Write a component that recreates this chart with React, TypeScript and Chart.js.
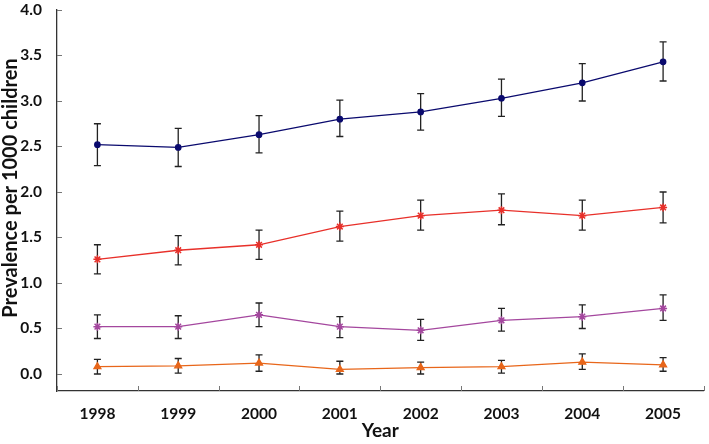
import React, { useEffect, useRef } from "react";
import { Chart, registerables } from "chart.js";

Chart.register(...registerables);

const years = ["1998", "1999", "2000", "2001", "2002", "2003", "2004", "2005"];
const yTicks = [0, 0.5, 1, 1.5, 2, 2.5, 3, 3.5, 4];

const navyValues = [2.52, 2.49, 2.63, 2.8, 2.88, 3.03, 3.2, 3.43];
const navyLow = [2.29, 2.28, 2.43, 2.61, 2.68, 2.83, 3.0, 3.22];
const navyHigh = [2.75, 2.7, 2.84, 3.01, 3.08, 3.24, 3.41, 3.65];

const redValues = [1.26, 1.36, 1.42, 1.62, 1.74, 1.8, 1.74, 1.83];
const redLow = [1.1, 1.2, 1.26, 1.46, 1.58, 1.64, 1.58, 1.66];
const redHigh = [1.42, 1.52, 1.58, 1.79, 1.91, 1.98, 1.91, 2.0];

const purpleValues = [0.52, 0.52, 0.65, 0.52, 0.48, 0.59, 0.63, 0.72];
const purpleLow = [0.39, 0.39, 0.52, 0.4, 0.37, 0.47, 0.5, 0.59];
const purpleHigh = [0.65, 0.64, 0.78, 0.63, 0.6, 0.72, 0.76, 0.87];

const orangeValues = [0.08, 0.09, 0.12, 0.05, 0.07, 0.08, 0.13, 0.1];
const orangeLow = [0.0, 0.01, 0.03, 0.0, 0.0, 0.01, 0.05, 0.03];
const orangeHigh = [0.16, 0.17, 0.21, 0.14, 0.13, 0.15, 0.22, 0.18];

const FONT = "Lato, 'DejaVu Sans', sans-serif";

const errorBarPlugin = {
  id: "errorBars",
  beforeDatasetsDraw(chart: any) {
    const ctx = chart.ctx;
    const x = chart.scales.x;
    const y = chart.scales.y;
    ctx.save();
    ctx.strokeStyle = "#222";
    ctx.lineWidth = 1.3;
    chart.data.datasets.forEach((ds: any) => {
      const lows = ds.errLow as number[];
      const highs = ds.errHigh as number[];
      lows.forEach((lo, i) => {
        const px = x.getPixelForValue(i);
        const pLo = y.getPixelForValue(lo);
        const pHi = y.getPixelForValue(highs[i]);
        ctx.beginPath();
        ctx.moveTo(px, pLo);
        ctx.lineTo(px, pHi);
        ctx.moveTo(px - 3.5, pLo);
        ctx.lineTo(px + 3.5, pLo);
        ctx.moveTo(px - 3.5, pHi);
        ctx.lineTo(px + 3.5, pHi);
        ctx.stroke();
      });
    });
    ctx.restore();
  },
  afterDraw(chart: any) {
    const ctx = chart.ctx;
    const x = chart.scales.x;
    const y = chart.scales.y;
    const area = chart.chartArea;
    ctx.save();
    ctx.strokeStyle = "#777";
    ctx.lineWidth = 1;
    yTicks.forEach((v) => {
      const py = Math.round(y.getPixelForValue(v)) + 0.5;
      ctx.beginPath();
      ctx.moveTo(area.left, py);
      ctx.lineTo(area.left + 5, py);
      ctx.stroke();
    });
    for (let i = 0; i <= years.length; i++) {
      const px = Math.round(x.getPixelForValue(i - 0.5)) + 0.5;
      ctx.beginPath();
      ctx.moveTo(px, area.bottom);
      ctx.lineTo(px, area.bottom - 5);
      ctx.stroke();
    }
    ctx.restore();
    ctx.save();
    ctx.setTransform(1, 0, 0, 1, 0, 0);
    ctx.fillStyle = "#111";
    ctx.font = `bold 20px ${FONT}`;
    ctx.textAlign = "center";
    ctx.textBaseline = "middle";
    ctx.translate(11, 188);
    ctx.rotate(-Math.PI / 2);
    ctx.fillText("Prevalence per 1000 children", 0, 0);
    ctx.restore();
  },
};

export default function App() {
  const canvasRef = useRef<HTMLCanvasElement | null>(null);

  useEffect(() => {
    if (!canvasRef.current) return;
    const chart = new Chart(canvasRef.current, {
      type: "line",
      data: {
        labels: years,
        datasets: [
          {
            data: navyValues,
            errLow: navyLow,
            errHigh: navyHigh,
            borderColor: "#0a0a6e",
            backgroundColor: "#0a0a6e",
            borderWidth: 1.3,
            pointStyle: "circle",
            pointRadius: 2.7,
          } as any,
          {
            data: redValues,
            errLow: redLow,
            errHigh: redHigh,
            borderColor: "#e8302a",
            backgroundColor: "#e8302a",
            borderWidth: 1.3,
            pointStyle: "star",
            pointRadius: 4,
            pointBorderWidth: 1.5,
          } as any,
          {
            data: purpleValues,
            errLow: purpleLow,
            errHigh: purpleHigh,
            borderColor: "#a4479e",
            backgroundColor: "#a4479e",
            borderWidth: 1.3,
            pointStyle: "star",
            pointRadius: 4,
            pointBorderWidth: 1.5,
          } as any,
          {
            data: orangeValues,
            errLow: orangeLow,
            errHigh: orangeHigh,
            borderColor: "#e8661a",
            backgroundColor: "#e8661a",
            borderWidth: 1.3,
            pointStyle: "triangle",
            pointRadius: 4,
          } as any,
        ],
      },
      options: {
        animation: false,
        responsive: true,
        maintainAspectRatio: false,
        layout: { padding: { top: 10, right: 0, left: 0, bottom: 0 } },
        plugins: {
          legend: { display: false },
          tooltip: { enabled: false },
        },
        scales: {
          x: {
            offset: true,
            grid: { display: false, offset: true },
            border: { display: true, color: "#333", width: 1.3 },
            ticks: {
              color: "#111",
              padding: 6,
              font: { family: FONT, size: 15.5, weight: "bold" },
              maxRotation: 0,
            },
            title: {
              display: true,
              text: "Year",
              color: "#111",
              padding: { top: 0, bottom: 2 },
              font: { family: FONT, size: 19, weight: "bold" },
            },
            afterFit(scale: any) {
              scale.height = 53;
              scale.paddingLeft = 0;
              scale.paddingRight = 0;
            },
          },
          y: {
            min: -0.187,
            max: 4.0,
            grid: { display: false },
            border: { display: true, color: "#333", width: 1.3 },
            ticks: {
              color: "#111",
              padding: 7,
              font: { family: FONT, size: 15.5, weight: "bold" },
              callback: (v: any) => Number(v).toFixed(1),
            },
            afterBuildTicks(scale: any) {
              scale.ticks = yTicks.map((v) => ({ value: v }));
            },
            afterFit(scale: any) {
              scale.width = 57;
              scale.paddingTop = 0;
              scale.paddingBottom = 0;
            },
          },
        },
      },
      plugins: [errorBarPlugin],
    });
    return () => chart.destroy();
  }, []);

  return (
    <div style={{ position: "fixed", left: 0, top: 0, width: 709, height: 444 }}>
      <canvas ref={canvasRef} />
    </div>
  );
}
